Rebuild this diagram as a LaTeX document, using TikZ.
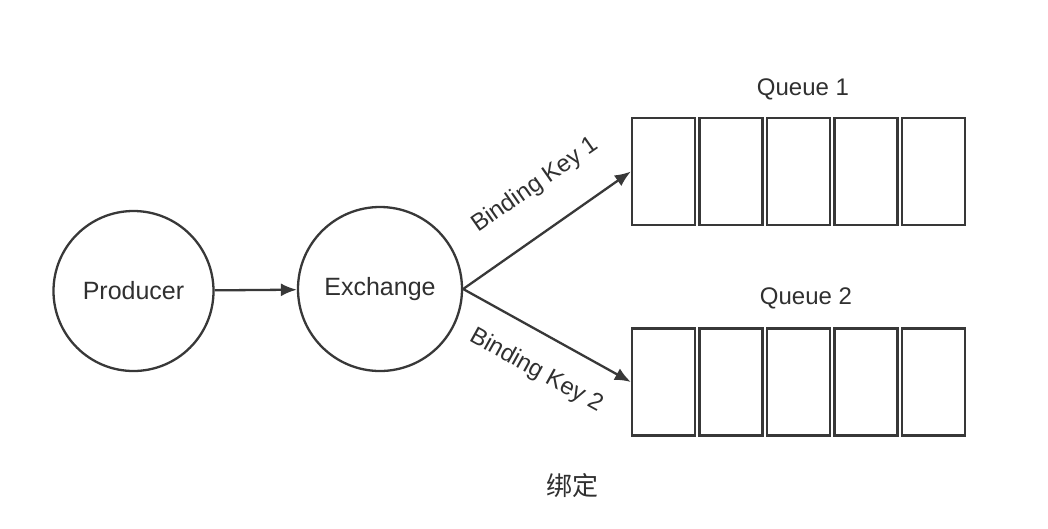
\documentclass[tikz,border=0pt]{standalone}
\usepackage{fontspec}
\setmainfont{Liberation Sans}
\newfontfamily\cjk{Noto Sans CJK SC}
\usetikzlibrary{arrows.meta}
\definecolor{ink}{HTML}{383838}
\definecolor{txt}{HTML}{303030}
\tikzset{
  every node/.style={text=txt},
  circ/.style={circle, draw=ink, line width=2.3pt, minimum size=160pt, inner sep=0pt, font=\fontsize{25}{28}\selectfont},
  cell/.style={rectangle, draw=ink, line width=2.3pt, minimum width=63pt, minimum height=107pt, inner sep=0pt},
  arr/.style={draw=ink, line width=2.3pt, -{Latex[length=16pt,width=13pt]}},
  lab/.style={font=\fontsize{24}{27}\selectfont, inner sep=0pt},
}
\begin{document}
\begin{tikzpicture}[x=1pt,y=-1pt]
\useasboundingbox[fill=white] (0,0) rectangle (1048,528);
\node[circ] (prod) at (133.5,291) {Producer};
\node[circ, minimum size=164pt] (exch) at (380,289) {Exchange};
\foreach \i in {1,...,5}{
  \node[cell] (qa\i) at ({663.5+67.5*(\i-1)},171.5) {};
  \node[cell] (qb\i) at ({663.5+67.5*(\i-1)},382) {};
}
\node[lab] (qla) at (803,89) {Queue 1};
\node[lab] (qlb) at (806,298) {Queue 2};
\draw[arr] (prod) -- (exch);
\draw[arr] (exch.east) -- node[lab, sloped, pos=0.58, above=31pt] (bk1) {Binding Key 1} (qa1.west);
\draw[arr] (exch.east) -- node[lab, sloped, pos=0.54, below=24pt] (bk2) {Binding Key 2} (qb1.west);
\node[font=\cjk\fontsize{26}{28}\selectfont] (cap) at (572,486) {绑定};
\end{tikzpicture}
\end{document}
